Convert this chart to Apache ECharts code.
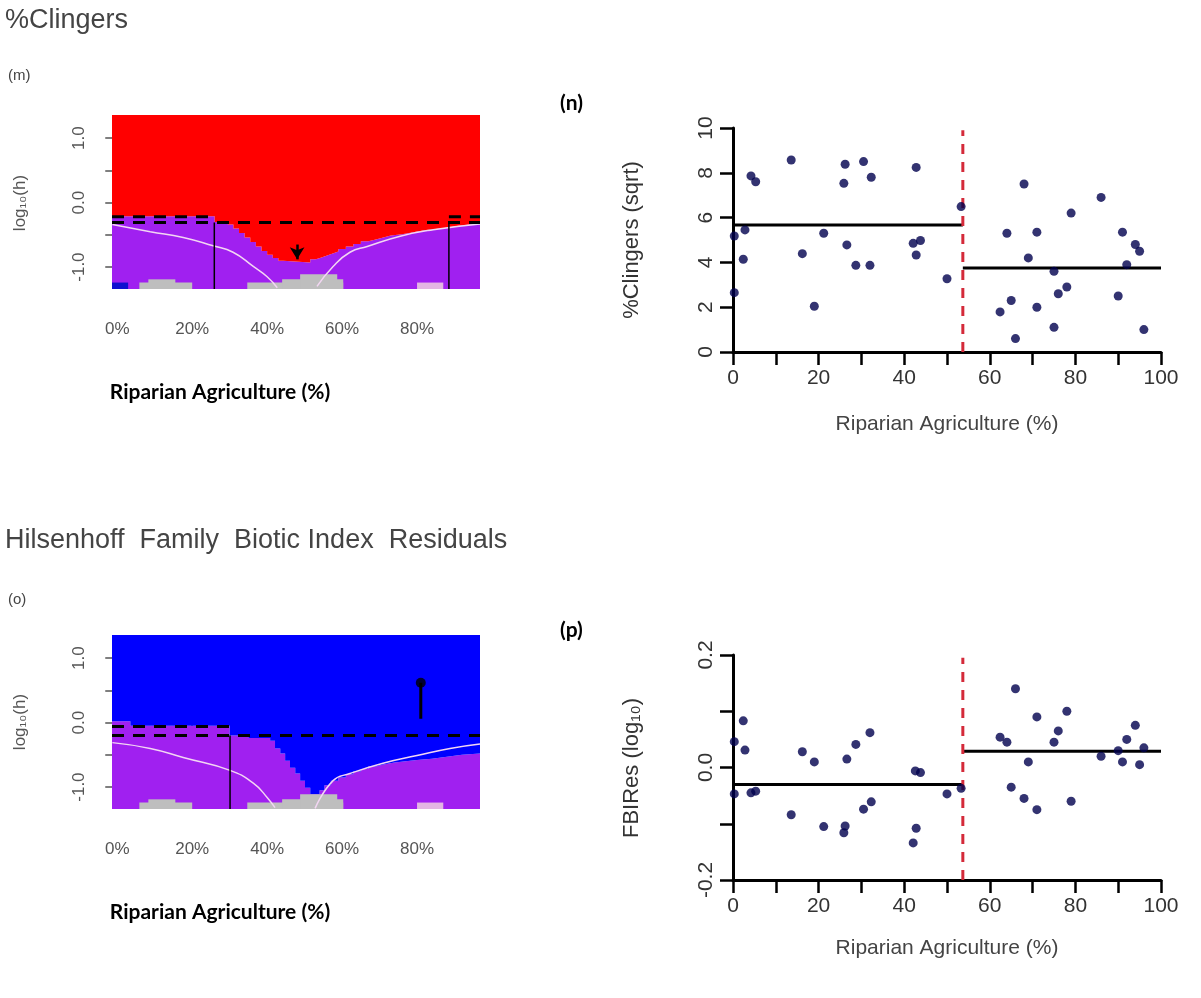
<!DOCTYPE html>
<html><head><meta charset="utf-8">
<script src="https://cdn.jsdelivr.net/npm/echarts@6/dist/echarts.min.js"></script>
<style>html,body{margin:0;padding:0;background:#fff}#c{width:1201px;height:998px}</style>
</head><body><div id="c"></div>
<script>
// ---------- DATA ----------
// panel (n): %Clingers (sqrt) vs Riparian Agriculture (%)
const clingersX = [0.3,0.3,2.4,2.8,4.2,5.3,13.6,16.2,19.0,21.2,25.9,26.2,26.6,28.7,30.5,32.0,32.3,42.1,42.8,42.8,43.8,50.0,53.3,
                   62.4,64,65,66,68,69,71,71,75,75,76,78,79,86,90,91,92,94,95,96];
const clingersY = [5.18,2.65,4.14,5.45,7.86,7.6,8.57,4.39,2.04,5.3,7.53,8.38,4.78,3.87,8.5,3.87,7.8,4.85,8.24,4.33,4.98,3.27,6.49,
                   1.79,5.3,2.3,0.6,7.5,4.2,5.35,2.0,1.1,3.6,2.6,2.9,6.2,6.9,2.5,5.35,3.9,4.8,4.5,1.0];
// panel (p): FBIRes (log10) vs Riparian Agriculture (%)
const fbiX = [0.3,0.3,2.4,2.8,4.2,5.3,13.6,16.2,19.0,21.2,25.9,26.2,26.6,28.7,30.5,32.0,32.3,42.1,42.8,42.6,43.8,50.0,53.3,
              62.4,64,65,66,68,69,71,71,75,76,78,79,86,90,91,92,94,95,96];
const fbiY = [0.046,-0.047,0.083,0.031,-0.045,-0.042,-0.084,0.028,0.010,-0.105,-0.116,-0.104,0.015,0.041,-0.074,0.062,-0.061,-0.134,-0.108,-0.006,-0.009,-0.047,-0.037,
              0.054,0.045,-0.035,0.14,-0.055,0.01,0.09,-0.075,0.045,0.065,0.10,-0.06,0.02,0.03,0.01,0.05,0.075,0.005,0.035];
const breakPoint = 53.7;
const clingersMeans = [5.67, 3.75];
const fbiMeans = [-0.030, 0.029];

// panels (m),(o): threshold maps (x = Riparian Agriculture %, y = log10(h))
const mBoundX = [-1.4,26,29.5,31,32.5,34,35.5,37,38.5,40,41.5,43,44.3,51.5,53,54.5,56,57.5,59,61,63,65,67,69,71,73,76,79,82,85,88,91,94,96.8];
const mBoundY = [-0.21,-0.30,-0.34,-0.40,-0.47,-0.54,-0.61,-0.68,-0.75,-0.81,-0.86,-0.90,-0.93,-0.88,-0.85,-0.82,-0.79,-0.76,-0.72,-0.68,-0.64,-0.60,-0.57,-0.54,-0.51,-0.49,-0.46,-0.43,-0.41,-0.39,-0.36,-0.34,-0.32,-0.31];
const oBoundX = [-1.4,3.5,30,35,40.8,42.1,43.5,44.8,46.1,47.5,48.8,50.1,51.5,54,55.3,57,59,61,63,65,67,69,71,74,77,80,84,88,92,96.8];
const oBoundY = [0.02,-0.05,-0.20,-0.24,-0.28,-0.40,-0.48,-0.59,-0.70,-0.79,-0.90,-1.01,-1.11,-1.05,-0.97,-0.90,-0.85,-0.80,-0.76,-0.72,-0.68,-0.65,-0.62,-0.60,-0.58,-0.56,-0.53,-0.50,-0.48,-0.46];
const mCurveLX = [-1.3,8.8,17.6,25.6,30.9,36.3,40,42.7];
const mCurveLY = [-0.34,-0.45,-0.54,-0.67,-0.77,-0.99,-1.15,-1.32];
const mCurveRX = [53.3,57.6,62.1,66.7,75.5,84.3,96.8];
const mCurveRY = [-1.30,-0.99,-0.77,-0.68,-0.52,-0.42,-0.33];
const oCurveLX = [-1.3,8.8,17.6,30.1,36.3,40,42.1];
const oCurveLY = [-0.31,-0.40,-0.54,-0.74,-0.94,-1.16,-1.32];
const oCurveRX = [52.8,57.6,62.1,70.9,80,88.8,96.8];
const oCurveRY = [-1.33,-0.90,-0.79,-0.63,-0.51,-0.40,-0.33];
// histogram blocks [x0, x1, top]
const greyBlocks = [[5.9,20,-1.24],[8.3,15.5,-1.19],[34.7,60.3,-1.24],[44,60.3,-1.19],[48.8,58.7,-1.11]];
const pinkBlocks = [[80,87,-1.24]];
const blueBlocksM = [[-1.4,2.9,-1.24]];
// dashed thresholds / change points
const mDashUpper = [[-1.4,25.9],[88.5,96.8]]; const mDashUpperY = -0.22; const mDashLowerY = -0.31;
const mChange = [25.9, 88.5];
const mArrow = [48, -0.65, -0.88];
const oDashUpper = [[-1.4,30.1]]; const oDashUpperY = -0.06; const oDashLowerY = -0.20;
const oChange = [30.1];
const oLolli = [81, 0.62, 0.06];

// ---------- CHART ----------
const XMIN=-1.4, XMAX=96.8, YMIN=-1.34, YMAX=1.36;
const RED='#ff0000', PURPLE='#a020f0', BLUE='#0000ff', GREY='#bebebe';
const chart = echarts.init(document.getElementById('c'), null, {renderer:'canvas'});
const zip=(a,b)=>a.map((v,i)=>[v,b[i]]);
function stepData(xs,ys){const d=zip(xs,ys);d.push([XMAX,ys[ys.length-1]]);return d;}

const grids = [
  {left:112, top:115, width:368, height:174},
  {left:733, top:128, width:428, height:224},
  {left:112, top:635, width:368, height:174},
  {left:733, top:655, width:428, height:225}
];
function mapX(i){return {gridIndex:i,type:'value',min:XMIN,max:XMAX,splitLine:{show:false},
  axisLine:{show:false},
  axisTick:{customValues:[0,20,40,60,80],length:13,lineStyle:{color:'#555',width:1.5}},
  axisLabel:{customValues:[0,20,40,60,80],formatter:v=>v+'%',fontSize:17,color:'#555',margin:32,fontFamily:'Liberation Sans'}};}
function mapY(i){return {gridIndex:i,type:'value',min:YMIN,max:YMAX,splitLine:{show:false},
  axisLine:{show:false},
  axisTick:{customValues:[-1,-0.5,0,0.5,1],length:12,lineStyle:{color:'#555',width:1.5}},
  axisLabel:{customValues:[-1,0,1],formatter:v=>v.toFixed(1),rotate:90,fontSize:17,color:'#555',margin:24,fontFamily:'Liberation Sans'}};}
function scX(i){return {gridIndex:i,type:'value',min:0,max:100,interval:10,splitLine:{show:false},
  axisLine:{onZero:false,lineStyle:{color:'#000',width:3}},
  axisTick:{length:13,lineStyle:{color:'#000',width:2.5}},
  axisLabel:{formatter:v=>v%20===0?String(v):'',fontSize:21,color:'#333',margin:16,fontFamily:'Liberation Sans'}};}
function scY(i,min,max,iv,fmt){return {gridIndex:i,type:'value',min:min,max:max,interval:iv,splitLine:{show:false},
  axisLine:{onZero:false,lineStyle:{color:'#000',width:3}},
  axisTick:{length:13,lineStyle:{color:'#000',width:2.5}},
  axisLabel:{formatter:fmt,rotate:90,fontSize:21,color:'#333',margin:16,fontFamily:'Liberation Sans'}};}

function area(gi, xs, ys, color, origin){
  return {type:'line',xAxisIndex:gi,yAxisIndex:gi,step:'end',symbol:'none',silent:true,
    data:stepData(xs,ys),lineStyle:{width:0},areaStyle:{color:color,opacity:1,origin:origin},z:1};
}
function rects(gi, blocks, color){
  return {type:'custom',xAxisIndex:gi,yAxisIndex:gi,silent:true,clip:true,data:blocks,z:3,
    renderItem:(p,api)=>{const a=api.coord([api.value(0),api.value(2)]);const b=api.coord([api.value(1),YMIN]);
      return {type:'rect',shape:{x:a[0],y:a[1],width:b[0]-a[0],height:b[1]-a[1]},style:{fill:color}};}};
}
function curve(gi,xs,ys){
  return {type:'line',xAxisIndex:gi,yAxisIndex:gi,smooth:true,symbol:'none',silent:true,data:zip(xs,ys),
    lineStyle:{color:'#f3d6f3',width:1.5},z:4};
}
function seg(gi,pts,color,width,type,z){
  return {type:'line',xAxisIndex:gi,yAxisIndex:gi,symbol:'none',silent:true,data:pts,
    lineStyle:{color:color,width:width,type:type||'solid'},z:z||5};
}
const dash=[12,9];
const series=[];
// (m)
series.push(area(0,mBoundX,mBoundY,PURPLE,'start'));
series.push(area(0,mBoundX,mBoundY,RED,'end'));
series.push(rects(0,greyBlocks,GREY));
series.push(rects(0,pinkBlocks,'#e3b5e3'));
series.push(rects(0,blueBlocksM,'#1010d0'));
series.push(curve(0,mCurveLX,mCurveLY));
series.push(curve(0,mCurveRX,mCurveRY));
mDashUpper.forEach(r=>series.push(seg(0,[[r[0],mDashUpperY],[r[1],mDashUpperY]],'#000',3,dash)));
series.push(seg(0,[[XMIN,mDashLowerY],[XMAX,mDashLowerY]],'#000',3,dash));
mChange.forEach(x=>series.push(seg(0,[[x,mDashLowerY],[x,YMIN]],'#000',1.5)));
series.push({type:'line',xAxisIndex:0,yAxisIndex:0,data:[],silent:true,
  markLine:{silent:true,symbol:['none','arrow'],symbolSize:[11,12],animation:false,label:{show:false},
    lineStyle:{color:'#000',width:2.5,type:'solid'},
    data:[[{coord:[mArrow[0],mArrow[1]]},{coord:[mArrow[0],mArrow[2]]}]]}});
// (o)
series.push(area(2,oBoundX,oBoundY,PURPLE,'start'));
series.push(area(2,oBoundX,oBoundY,BLUE,'end'));
series.push(rects(2,greyBlocks,GREY));
series.push(rects(2,pinkBlocks,'#e3b5e3'));
series.push(curve(2,oCurveLX,oCurveLY));
series.push(curve(2,oCurveRX,oCurveRY));
oDashUpper.forEach(r=>series.push(seg(2,[[r[0],oDashUpperY],[r[1],oDashUpperY]],'#000',3,dash)));
series.push(seg(2,[[XMIN,oDashLowerY],[XMAX,oDashLowerY]],'#000',3,dash));
oChange.forEach(x=>series.push(seg(2,[[x,oDashLowerY],[x,YMIN]],'#000',1.5)));
series.push(seg(2,[[oLolli[0],oLolli[1]],[oLolli[0],oLolli[2]]],'#000',3));
series.push({type:'scatter',xAxisIndex:2,yAxisIndex:2,data:[[oLolli[0],oLolli[1]]],symbolSize:10,itemStyle:{color:'#000'},silent:true,z:6});
// (n)
series.push(seg(1,[[0,clingersMeans[0]],[breakPoint,clingersMeans[0]]],'#000',3));
series.push(seg(1,[[breakPoint,clingersMeans[1]],[100,clingersMeans[1]]],'#000',3));
series.push(seg(1,[[breakPoint,0],[breakPoint,9.9]],'#d42a3a',3,[10,8],6));
series.push({type:'scatter',xAxisIndex:1,yAxisIndex:1,data:zip(clingersX,clingersY),symbolSize:9,itemStyle:{color:'#00004d'},z:7,silent:true});
// (p)
series.push(seg(3,[[0,fbiMeans[0]],[breakPoint,fbiMeans[0]]],'#000',3));
series.push(seg(3,[[breakPoint,fbiMeans[1]],[100,fbiMeans[1]]],'#000',3));
series.push(seg(3,[[breakPoint,-0.2],[breakPoint,0.195]],'#d42a3a',3,[10,8],6));
series.push({type:'scatter',xAxisIndex:3,yAxisIndex:3,data:zip(fbiX,fbiY),symbolSize:9,itemStyle:{color:'#00004d'},z:7,silent:true});

function txt(x,y,t,size,opts){opts=opts||{};return {type:'text',x:x,y:y,rotation:opts.rot||0,silent:true,
  style:{text:t,fontSize:size,fontFamily:opts.font||'Liberation Sans',fontWeight:opts.bold?'bold':'normal',
    fill:opts.color||'#444',align:opts.align||'left',verticalAlign:'middle'}};}

const option={
  animation:false,
  grid:grids,
  xAxis:[mapX(0),scX(1),mapX(2),scX(3)],
  yAxis:[mapY(0),scY(1,0,10,2,v=>String(v)),mapY(2),scY(3,-0.2,0.2,0.1,v=>(Math.abs(Math.round(v*10))%2===0)?v.toFixed(1):'')],
  series:series,
  graphic:[
    txt(5,21,'%Clingers',27),
    txt(8,76,'(m)',15),
    txt(220,392,'Riparian Agriculture (%)',21,{bold:true,font:'Lato',color:'#000',align:'center'}),
    txt(560,103,'(n)',21,{bold:true,font:'Lato',color:'#000'}),
    txt(632,240,'%Clingers (sqrt)',22,{rot:Math.PI/2,align:'center',color:'#333'}),
    txt(947,424,'Riparian Agriculture (%)',21,{align:'center',color:'#444'}),
    txt(5,541,'Hilsenhoff  Family  Biotic Index  Residuals',27),
    txt(8,600,'(o)',15),
    txt(220,912,'Riparian Agriculture (%)',21,{bold:true,font:'Lato',color:'#000',align:'center'}),
    txt(560,630,'(p)',21,{bold:true,font:'Lato',color:'#000'}),
    txt(632,768,'FBIRes (log\u2081\u2080)',22,{rot:Math.PI/2,align:'center',color:'#333'}),
    txt(947,948,'Riparian Agriculture (%)',21,{align:'center',color:'#444'}),
    txt(20,203,'log\u2081\u2080(h)',17,{rot:Math.PI/2,align:'center',color:'#555'}),
    txt(20,722,'log\u2081\u2080(h)',17,{rot:Math.PI/2,align:'center',color:'#555'})
  ]
};
chart.setOption(option);
</script></body></html>
